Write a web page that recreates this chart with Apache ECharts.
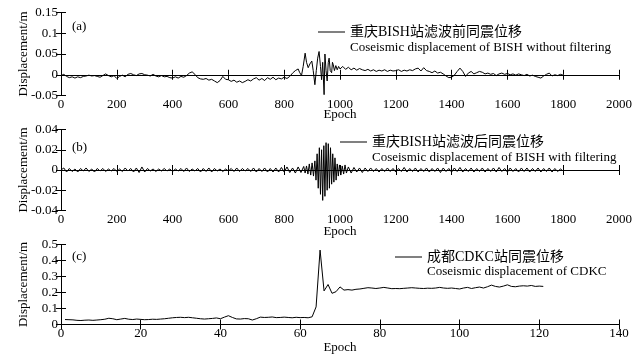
<!DOCTYPE html>
<html>
<head>
<meta charset="utf-8">
<script src="https://cdn.jsdelivr.net/npm/echarts@6/dist/echarts.min.js"></script>
<style>
html,body{margin:0;padding:0;background:#fff;}
#chart{width:637px;height:357px;}
</style>
</head>
<body>
<div id="chart"></div>
<script>
// ---- data (epoch, displacement in m) ----
var nameA = '重庆BISH站滤波前同震位移';
var nameB = '重庆BISH站滤波后同震位移';
var nameC = '成都CDKC站同震位移';
var engA = 'Coseismic displacement of BISH without filtering';
var engB = 'Coseismic displacement of BISH with filtering';
var engC = 'Coseismic displacement of CDKC';

var ticksA = {min: 0, max: 2000, interval: 200};
var ticksYA = {min: -0.05, max: 0.15, interval: 0.05};
var ticksYB = {min: -0.04, max: 0.04, interval: 0.02};
var ticksC = {min: 0, max: 140, interval: 20};
var ticksYC = {min: 0, max: 0.5, interval: 0.1};

var bishRaw = [
[0,-0.002],[10,0.001],[20,-0.004],[30,-0.007],[40,-0.005],[50,-0.008],[60,-0.005],[70,-0.007],[80,-0.004],[90,-0.003],
[100,-0.001],[110,-0.003],[120,-0.002],[130,-0.004],[140,-0.006],[150,-0.002],[160,0.002],[170,-0.002],[180,-0.005],[190,-0.002],
[200,-0.009],[210,-0.004],[220,-0.001],[230,-0.005],[240,0.001],[250,0.003],[260,0.000],[270,-0.002],[280,0.002],[290,0.003],
[300,0.000],[310,-0.001],[320,-0.003],[330,0.001],[340,-0.003],[350,-0.005],[360,-0.002],[370,-0.005],[380,-0.004],[390,-0.007],
[400,-0.008],[410,-0.005],[420,-0.008],[430,-0.004],[440,-0.006],[450,-0.002],[460,0.004],[470,0.007],[480,0.001],[490,-0.007],
[500,-0.010],[510,-0.011],[520,-0.009],[530,-0.013],[540,-0.011],[550,-0.015],[560,-0.019],[570,-0.014],[580,-0.004],[590,-0.011],
[600,-0.012],[610,-0.016],[620,-0.013],[630,-0.018],[640,-0.015],[650,-0.019],[660,-0.016],[670,-0.012],[680,-0.015],[690,-0.010],
[700,-0.007],[710,-0.013],[720,-0.009],[730,-0.014],[740,-0.007],[750,-0.011],[760,-0.006],[770,-0.012],[780,-0.008],[790,-0.010],
[800,-0.006],[810,-0.009],[820,-0.004],[830,0.004],[840,0.010],[850,0.014],[855,0.006],[862,-0.002],[868,0.020],[875,0.052],
[880,0.030],[886,0.017],[892,0.026],[899,0.033],[904,0.010],[910,-0.024],[915,0.010],[920,0.040],[925,0.056],[930,0.020],
[934,-0.012],[938,0.030],[943,-0.048],[946,0.050],[950,0.010],[954,-0.015],[958,0.030],[961,0.040],[965,0.010],[970,0.005],
[973,0.030],[976,0.024],[980,0.010],[985,0.022],[990,0.012],[995,0.020],[1000,0.014],
[1010,0.020],[1020,0.013],[1030,0.018],[1040,0.012],[1050,0.016],[1060,0.011],[1070,0.015],[1080,0.012],[1090,0.010],
[1100,0.013],[1110,0.009],[1120,0.012],[1130,0.008],[1140,0.011],[1150,0.009],[1160,0.012],[1170,0.008],[1180,0.011],[1190,0.009],
[1200,0.010],[1210,0.012],[1220,0.008],[1230,0.011],[1240,0.009],[1250,0.012],[1260,0.010],[1270,0.014],[1280,0.016],[1290,0.009],
[1300,0.017],[1310,0.010],[1320,0.008],[1330,0.005],[1340,0.009],[1350,0.004],[1360,0.006],[1370,0.002],[1380,-0.003],[1390,-0.007],
[1400,-0.006],[1410,-0.001],[1420,0.008],[1430,0.016],[1440,0.008],[1450,-0.004],[1460,0.004],[1470,0.008],[1480,0.002],[1490,0.005],
[1500,0.008],[1510,0.006],[1520,0.002],[1530,0.004],[1540,0.001],[1550,0.003],[1560,-0.002],[1570,0.002],[1580,0.004],[1590,0.001],
[1600,0.003],[1610,0.000],[1620,0.002],[1630,-0.001],[1640,0.002],[1650,0.000],[1660,-0.002],[1670,0.001],[1680,-0.003],[1690,-0.001],
[1700,-0.004],[1710,-0.006],[1720,-0.008],[1730,-0.003],[1740,0.001],[1750,0.004],[1760,-0.003],[1770,0.000],[1780,-0.002],[1790,0.001],[1800,-0.001]
];

var bishFiltered = [
[0,0],[10,0.002],[20,-0.002],[30,0.0015],[40,-0.0015],[50,0.001],[60,-0.002],[70,0.0015],[80,-0.001],[90,0.002],
[100,-0.0015],[110,0.001],[120,-0.002],[130,0.0015],[140,-0.001],[150,0.0015],[160,-0.0015],[170,0.001],[180,-0.001],[190,0.0015],
[200,-0.0015],[210,0.001],[220,-0.0015],[230,0.002],[240,-0.001],[250,0.0015],[260,-0.002],[270,0.002],[280,-0.0025],[290,0.003],
[300,-0.002],[310,0.0015],[320,-0.001],[330,0.001],[340,-0.0015],[350,0.001],[360,-0.001],[370,0.0015],[380,-0.001],[390,0.001],
[400,-0.0015],[410,0.001],[420,-0.001],[430,0.0015],[440,-0.0015],[450,0.002],[460,-0.0015],[470,0.001],[480,-0.001],[490,0.0015],
[500,-0.002],[510,0.0015],[520,-0.0015],[530,0.002],[540,-0.002],[550,0.0015],[560,-0.001],[570,0.001],[580,-0.0015],[590,0.001],
[600,-0.001],[610,0.0015],[620,-0.0015],[630,0.002],[640,-0.0015],[650,0.0015],[660,-0.001],[670,0.0015],[680,-0.0015],[690,0.002],
[700,-0.002],[710,0.0015],[720,-0.0015],[730,0.002],[740,-0.002],[750,0.0015],[760,-0.002],[770,0.002],[780,-0.002],[790,0.0025],
[800,-0.002],[810,0.003],[820,-0.0025],[830,0.002],[840,-0.003],[850,0.003],[860,-0.0025],[870,0.0035],[875,-0.003],
[880,0.004],[885,-0.004],[890,0.006],[895,-0.005],[900,0.007],[905,-0.006],[910,0.009],[914,-0.010],[918,0.016],[922,-0.018],
[926,0.022],[930,-0.024],[934,0.020],[938,-0.030],[942,0.024],[946,-0.026],[950,0.027],[954,-0.020],[958,0.026],[962,-0.018],
[966,0.022],[970,-0.014],[974,0.016],[978,-0.012],[982,0.012],[986,-0.010],[990,0.006],[994,-0.006],[998,0.005],[1003,-0.005],
[1008,0.004],[1013,-0.004],[1018,0.005],[1023,-0.003],[1030,0.003],[1040,-0.003],[1050,0.0025],[1060,-0.002],[1070,0.002],[1080,-0.0025],
[1090,0.002],[1100,-0.0015],[1110,0.002],[1120,-0.0015],[1130,0.0015],[1140,-0.002],[1150,0.0015],[1160,-0.0015],[1170,0.002],[1180,-0.0015],
[1190,0.0015],[1200,-0.002],[1210,0.0015],[1220,-0.0015],[1230,0.0025],[1240,-0.002],[1250,0.0015],[1260,-0.0015],[1270,0.002],[1280,-0.002],
[1290,0.0015],[1300,-0.0015],[1310,0.002],[1320,-0.002],[1330,0.0015],[1340,-0.0015],[1350,0.002],[1360,-0.0025],[1370,0.002],[1380,-0.0015],
[1390,0.0015],[1400,-0.002],[1410,0.002],[1420,-0.0015],[1430,0.0025],[1440,-0.002],[1450,0.0015],[1460,-0.0015],[1470,0.002],[1480,-0.002],
[1490,0.0015],[1500,-0.0015],[1510,0.002],[1520,-0.002],[1530,0.0015],[1540,-0.0015],[1550,0.002],[1560,-0.002],[1570,0.0025],[1580,-0.0015],
[1590,0.0015],[1600,-0.002],[1610,0.002],[1620,-0.0015],[1630,0.0015],[1640,-0.002],[1650,0.002],[1660,-0.0015],[1670,0.002],[1680,-0.002],
[1690,0.0015],[1700,-0.0015],[1710,0.002],[1720,-0.002],[1730,0.0015],[1740,-0.0015],[1750,0.002],[1760,-0.002],[1770,0.0015],[1780,-0.0015],
[1790,0.001],[1800,-0.001]
];

var cdkc = [
[1,0.031],[2,0.030],[3,0.029],[4,0.026],[5,0.025],[6,0.027],[7,0.028],[8,0.026],[9,0.028],[10,0.030],
[11,0.033],[12,0.039],[13,0.036],[14,0.030],[15,0.034],[16,0.038],[17,0.033],[18,0.031],[19,0.034],[20,0.032],
[21,0.030],[22,0.031],[23,0.033],[24,0.032],[25,0.034],[26,0.036],[27,0.039],[28,0.042],[29,0.044],[30,0.045],
[31,0.043],[32,0.045],[33,0.042],[34,0.039],[35,0.036],[36,0.034],[37,0.036],[38,0.038],[39,0.041],[40,0.036],
[41,0.046],[42,0.055],[43,0.044],[44,0.035],[45,0.034],[46,0.037],[47,0.036],[48,0.028],[49,0.036],[50,0.046],
[51,0.044],[52,0.045],[53,0.047],[54,0.043],[55,0.044],[56,0.046],[57,0.044],[58,0.042],[59,0.045],[60,0.043],
[61,0.044],[62,0.042],[63,0.048],[64,0.11],[65,0.465],[66,0.21],[67,0.25],[68,0.195],[69,0.205],[70,0.235],
[71,0.215],[72,0.218],[73,0.215],[74,0.22],[75,0.222],[76,0.226],[77,0.23],[78,0.228],[79,0.225],[80,0.228],
[81,0.232],[82,0.228],[83,0.224],[84,0.225],[85,0.224],[86,0.226],[87,0.228],[88,0.23],[89,0.228],[90,0.226],
[91,0.225],[92,0.227],[93,0.226],[94,0.228],[95,0.232],[96,0.228],[97,0.226],[98,0.228],[99,0.225],[100,0.222],
[101,0.228],[102,0.232],[103,0.225],[104,0.23],[105,0.234],[106,0.228],[107,0.236],[108,0.246],[109,0.238],[110,0.234],
[111,0.24],[112,0.248],[113,0.238],[114,0.236],[115,0.24],[116,0.242],[117,0.24],[118,0.244],[119,0.238],[120,0.24],[121,0.238]
];

// ---- layout ----
var FONT = "'Liberation Serif','Times New Roman','Noto Sans CJK SC',serif";
var grids = [
  {left: 61, top: 12.5, width: 558, height: 83},
  {left: 61, top: 129.5, width: 558, height: 81},
  {left: 61, top: 244.5, width: 558, height: 80}
];
var xRanges = [ticksA, ticksA, ticksC];
var yRanges = [ticksYA, ticksYB, ticksYC];
var epochGaps = [13, 15, 17];

var lineAxis = {show: true, lineStyle: {color: '#000', width: 1}};
var tickIn = {show: true, inside: true, length: 5, lineStyle: {color: '#000', width: 1}};
var labelStyle = {color: '#000', fontFamily: FONT, fontSize: 13, margin: 3,
  formatter: function (v) { return String(v); }};

var xAxes = [], yAxes = [];
for (var i = 0; i < 3; i++) {
  var xr = xRanges[i], yr = yRanges[i];
  xAxes.push({type: 'value', gridIndex: i, position: 'bottom', min: xr.min, max: xr.max, interval: xr.interval,
    axisLine: lineAxis, axisTick: tickIn, splitLine: {show: false}, axisLabel: labelStyle,
    name: 'Epoch', nameLocation: 'middle', nameGap: epochGaps[i], nameMoveOverlap: false,
    nameTextStyle: {color: '#000', fontFamily: FONT, fontSize: 13}});
  xAxes.push({type: 'value', gridIndex: i, position: 'top', min: xr.min, max: xr.max, interval: xr.interval,
    axisLine: lineAxis, axisTick: tickIn, splitLine: {show: false}, axisLabel: {show: false}});
  yAxes.push({type: 'value', gridIndex: i, position: 'left', min: yr.min, max: yr.max, interval: yr.interval,
    axisLine: lineAxis, axisTick: tickIn, splitLine: {show: false}, axisLabel: labelStyle,
    name: 'Displacement/m', nameLocation: 'middle', nameGap: 31, nameMoveOverlap: false,
    nameTextStyle: {color: '#000', fontFamily: FONT, fontSize: 13}});
  yAxes.push({type: 'value', gridIndex: i, position: 'right', min: yr.min, max: yr.max, interval: yr.interval,
    axisLine: lineAxis, axisTick: tickIn, splitLine: {show: false}, axisLabel: {show: false}});
}

function mkSeries(name, data, i) {
  return {name: name, type: 'line', data: data, xAxisIndex: 2 * i, yAxisIndex: 2 * i,
    symbol: 'none', showSymbol: false, animation: false,
    lineStyle: {color: '#000', width: 1}, itemStyle: {color: '#000'}};
}

function mkLegend(name, left, cy) {
  return {data: [name], left: left, top: cy - 7, icon: 'rect', itemWidth: 27, itemHeight: 1, itemGap: 0,
    padding: 0, itemStyle: {color: '#000'},
    textStyle: {color: '#000', fontFamily: FONT, fontSize: 14, padding: [0, 0, 0, 0]},
    selectedMode: false};
}

function mkText(txt, x, y, size) {
  return {type: 'text', x: x, y: y, silent: true,
    style: {text: txt, fill: '#000', font: size + 'px ' + FONT, verticalAlign: 'middle', align: 'left'}};
}

var option = {
  backgroundColor: '#fff',
  animation: false,
  grid: grids,
  xAxis: xAxes,
  yAxis: yAxes,
  legend: [mkLegend(nameA, 318, 32), mkLegend(nameB, 340, 142), mkLegend(nameC, 395, 257)],
  series: [mkSeries(nameA, bishRaw, 0), mkSeries(nameB, bishFiltered, 1), mkSeries(nameC, cdkc, 2)],
  graphic: [
    mkText('(a)', 72, 27, 13), mkText('(b)', 72, 148, 13), mkText('(c)', 72, 257, 13),
    mkText(engA, 350, 48, 13), mkText(engB, 372, 158, 13), mkText(engC, 427, 272, 13)
  ]
};

var chart = echarts.init(document.getElementById('chart'), null, {renderer: 'canvas'});
chart.setOption(option);
</script>
</body>
</html>
